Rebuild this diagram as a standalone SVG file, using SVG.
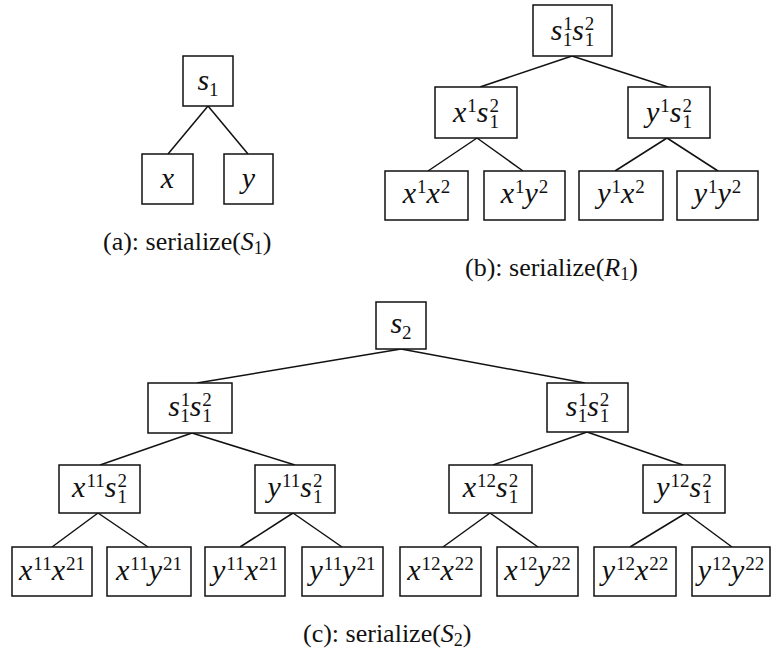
<svg xmlns="http://www.w3.org/2000/svg" width="771" height="657" viewBox="0 0 771 657">
  <style>
    .box { fill: #fff; stroke: #111; stroke-width: 1.5; }
    .edge { stroke: #111; stroke-width: 1.5; fill: none; }
    .m { font-size: 30px; font-style: italic; fill: #111; text-anchor: middle; }
    .sc { font-size: 19px; font-style: normal; }
    .cap { font-size: 26px; fill: #111; }
    .it { font-style: italic; }
    .sub { font-size: 18px; }
  </style>
  <rect width="771" height="657" fill="#fff"/>

  <!-- connectors -->
  <g id="connectors">
    <!-- (a) -->
    <line class="edge" x1="208" y1="106" x2="168" y2="154"/>
    <line class="edge" x1="208" y1="106" x2="248" y2="154"/>
    <!-- (b) -->
    <line class="edge" x1="572" y1="56" x2="480" y2="87"/>
    <line class="edge" x1="572" y1="56" x2="668" y2="87"/>
    <line class="edge" x1="477" y1="138" x2="428" y2="171"/>
    <line class="edge" x1="477" y1="138" x2="523" y2="171"/>
    <line class="edge" x1="667" y1="138" x2="615" y2="171"/>
    <line class="edge" x1="667" y1="138" x2="718" y2="171"/>
    <!-- (c) -->
    <line class="edge" x1="401" y1="349" x2="197" y2="383"/>
    <line class="edge" x1="401" y1="349" x2="585" y2="383"/>
    <line class="edge" x1="192" y1="433" x2="100" y2="465"/>
    <line class="edge" x1="192" y1="433" x2="295" y2="465"/>
    <line class="edge" x1="587" y1="432" x2="493" y2="465"/>
    <line class="edge" x1="587" y1="432" x2="683" y2="465"/>
    <line class="edge" x1="98" y1="513" x2="52" y2="547"/>
    <line class="edge" x1="98" y1="513" x2="148" y2="547"/>
    <line class="edge" x1="293" y1="513" x2="240" y2="547"/>
    <line class="edge" x1="293" y1="513" x2="342" y2="547"/>
    <line class="edge" x1="490" y1="513" x2="443" y2="547"/>
    <line class="edge" x1="490" y1="513" x2="538" y2="547"/>
    <line class="edge" x1="686" y1="513" x2="630" y2="547"/>
    <line class="edge" x1="686" y1="513" x2="732" y2="547"/>
  </g>

  <!-- (a): serialize(S1) -->
  <g id="a-s1">
    <rect class="box" x="183" y="56" width="50" height="50"/>
    <text class="m" font-family="Liberation Serif" x="208" y="90">s<tspan class="sc" dy="6">1</tspan></text>
  </g>
  <g id="a-x">
    <rect class="box" x="142" y="154" width="51" height="50"/>
    <text class="m" font-family="Liberation Serif" x="167.5" y="188">x</text>
  </g>
  <g id="a-y">
    <rect class="box" x="224" y="154" width="49" height="50"/>
    <text class="m" font-family="Liberation Serif" x="248.5" y="188">y</text>
  </g>

  <!-- (b): serialize(R1) -->
  <g id="b-root">
    <rect class="box" x="533" y="5" width="79" height="51"/>
    <text class="m" font-family="Liberation Serif" x="572.5" y="40">s<tspan class="sc" dx="1" dy="-10">1</tspan><tspan class="sc" dx="-9.5" dy="16">1</tspan><tspan dy="-6">s</tspan><tspan class="sc" dx="1" dy="-10">2</tspan><tspan class="sc" dx="-9.5" dy="16">1</tspan></text>
  </g>
  <g id="b-x1s21">
    <rect class="box" x="435" y="87" width="82" height="51"/>
    <text class="m" font-family="Liberation Serif" x="476" y="122">x<tspan class="sc" dx="1" dy="-10">1</tspan><tspan dy="10">s</tspan><tspan class="sc" dx="1" dy="-10">2</tspan><tspan class="sc" dx="-9.5" dy="16">1</tspan></text>
  </g>
  <g id="b-y1s21">
    <rect class="box" x="628" y="87" width="82" height="51"/>
    <text class="m" font-family="Liberation Serif" x="669" y="122">y<tspan class="sc" dx="1" dy="-10">1</tspan><tspan dy="10">s</tspan><tspan class="sc" dx="1" dy="-10">2</tspan><tspan class="sc" dx="-9.5" dy="16">1</tspan></text>
  </g>
  <g id="b-x1x2">
    <rect class="box" x="385" y="171" width="83" height="49"/>
    <text class="m" font-family="Liberation Serif" x="426.5" y="203">x<tspan class="sc" dx="1" dy="-10">1</tspan><tspan dy="10">x</tspan><tspan class="sc" dx="1" dy="-10">2</tspan></text>
  </g>
  <g id="b-x1y2">
    <rect class="box" x="484" y="171" width="81" height="49"/>
    <text class="m" font-family="Liberation Serif" x="524.5" y="203">x<tspan class="sc" dx="1" dy="-10">1</tspan><tspan dy="10">y</tspan><tspan class="sc" dx="1" dy="-10">2</tspan></text>
  </g>
  <g id="b-y1x2">
    <rect class="box" x="579" y="171" width="84" height="49"/>
    <text class="m" font-family="Liberation Serif" x="621" y="203">y<tspan class="sc" dx="1" dy="-10">1</tspan><tspan dy="10">x</tspan><tspan class="sc" dx="1" dy="-10">2</tspan></text>
  </g>
  <g id="b-y1y2">
    <rect class="box" x="677" y="171" width="81" height="49"/>
    <text class="m" font-family="Liberation Serif" x="717.5" y="203">y<tspan class="sc" dx="1" dy="-10">1</tspan><tspan dy="10">y</tspan><tspan class="sc" dx="1" dy="-10">2</tspan></text>
  </g>

  <!-- (c): serialize(S2) -->
  <g id="c-s2">
    <rect class="box" x="376" y="302" width="50" height="47"/>
    <text class="m" font-family="Liberation Serif" x="401" y="333">s<tspan class="sc" dy="6">2</tspan></text>
  </g>
  <g id="c-left">
    <rect class="box" x="148" y="383" width="84" height="50"/>
    <text class="m" font-family="Liberation Serif" x="190" y="416">s<tspan class="sc" dx="1" dy="-10">1</tspan><tspan class="sc" dx="-9.5" dy="16">1</tspan><tspan dy="-6">s</tspan><tspan class="sc" dx="1" dy="-10">2</tspan><tspan class="sc" dx="-9.5" dy="16">1</tspan></text>
  </g>
  <g id="c-right">
    <rect class="box" x="547" y="383" width="81" height="49"/>
    <text class="m" font-family="Liberation Serif" x="587.5" y="416">s<tspan class="sc" dx="1" dy="-10">1</tspan><tspan class="sc" dx="-9.5" dy="16">1</tspan><tspan dy="-6">s</tspan><tspan class="sc" dx="1" dy="-10">2</tspan><tspan class="sc" dx="-9.5" dy="16">1</tspan></text>
  </g>
  <g id="c-x11s21">
    <rect class="box" x="59" y="465" width="81" height="48"/>
    <text class="m" font-family="Liberation Serif" x="99.5" y="497">x<tspan class="sc" dx="1" dy="-10">11</tspan><tspan dy="10">s</tspan><tspan class="sc" dx="1" dy="-10">2</tspan><tspan class="sc" dx="-9.5" dy="16">1</tspan></text>
  </g>
  <g id="c-y11s21">
    <rect class="box" x="255" y="465" width="80" height="48"/>
    <text class="m" font-family="Liberation Serif" x="295" y="497">y<tspan class="sc" dx="1" dy="-10">11</tspan><tspan dy="10">s</tspan><tspan class="sc" dx="1" dy="-10">2</tspan><tspan class="sc" dx="-9.5" dy="16">1</tspan></text>
  </g>
  <g id="c-x12s21">
    <rect class="box" x="449" y="465" width="83" height="48"/>
    <text class="m" font-family="Liberation Serif" x="490.5" y="497">x<tspan class="sc" dx="1" dy="-10">12</tspan><tspan dy="10">s</tspan><tspan class="sc" dx="1" dy="-10">2</tspan><tspan class="sc" dx="-9.5" dy="16">1</tspan></text>
  </g>
  <g id="c-y12s21">
    <rect class="box" x="643" y="465" width="82" height="48"/>
    <text class="m" font-family="Liberation Serif" x="684" y="497">y<tspan class="sc" dx="1" dy="-10">12</tspan><tspan dy="10">s</tspan><tspan class="sc" dx="1" dy="-10">2</tspan><tspan class="sc" dx="-9.5" dy="16">1</tspan></text>
  </g>
  <g id="c-x11x21">
    <rect class="box" x="12" y="547" width="80" height="49"/>
    <text class="m" font-family="Liberation Serif" x="52" y="580">x<tspan class="sc" dx="1" dy="-10">11</tspan><tspan dy="10">x</tspan><tspan class="sc" dx="1" dy="-10">21</tspan></text>
  </g>
  <g id="c-x11y21">
    <rect class="box" x="107" y="547" width="84" height="49"/>
    <text class="m" font-family="Liberation Serif" x="149" y="580">x<tspan class="sc" dx="1" dy="-10">11</tspan><tspan dy="10">y</tspan><tspan class="sc" dx="1" dy="-10">21</tspan></text>
  </g>
  <g id="c-y11x21">
    <rect class="box" x="205" y="547" width="80" height="49"/>
    <text class="m" font-family="Liberation Serif" x="245" y="580">y<tspan class="sc" dx="1" dy="-10">11</tspan><tspan dy="10">x</tspan><tspan class="sc" dx="1" dy="-10">21</tspan></text>
  </g>
  <g id="c-y11y21">
    <rect class="box" x="302" y="547" width="81" height="49"/>
    <text class="m" font-family="Liberation Serif" x="342.5" y="580">y<tspan class="sc" dx="1" dy="-10">11</tspan><tspan dy="10">y</tspan><tspan class="sc" dx="1" dy="-10">21</tspan></text>
  </g>
  <g id="c-x12x22">
    <rect class="box" x="400" y="547" width="81" height="49"/>
    <text class="m" font-family="Liberation Serif" x="440.5" y="580">x<tspan class="sc" dx="1" dy="-10">12</tspan><tspan dy="10">x</tspan><tspan class="sc" dx="1" dy="-10">22</tspan></text>
  </g>
  <g id="c-x12y22">
    <rect class="box" x="497" y="547" width="81" height="49"/>
    <text class="m" font-family="Liberation Serif" x="537.5" y="580">x<tspan class="sc" dx="1" dy="-10">12</tspan><tspan dy="10">y</tspan><tspan class="sc" dx="1" dy="-10">22</tspan></text>
  </g>
  <g id="c-y12x22">
    <rect class="box" x="594" y="547" width="82" height="49"/>
    <text class="m" font-family="Liberation Serif" x="635" y="580">y<tspan class="sc" dx="1" dy="-10">12</tspan><tspan dy="10">x</tspan><tspan class="sc" dx="1" dy="-10">22</tspan></text>
  </g>
  <g id="c-y12y22">
    <rect class="box" x="692" y="547" width="78" height="49"/>
    <text class="m" font-family="Liberation Serif" x="731" y="580">y<tspan class="sc" dx="1" dy="-10">12</tspan><tspan dy="10">y</tspan><tspan class="sc" dx="1" dy="-10">22</tspan></text>
  </g>

  <!-- captions -->
  <text class="cap" font-family="Liberation Serif" x="103" y="250">(a):  serialize(<tspan class="it">S</tspan><tspan class="sub" dy="4">1</tspan><tspan dy="-4">)</tspan></text>
  <text class="cap" font-family="Liberation Serif" x="465" y="276">(b):  serialize(<tspan class="it">R</tspan><tspan class="sub" dy="4">1</tspan><tspan dy="-4">)</tspan></text>
  <text class="cap" font-family="Liberation Serif" x="303" y="642">(c):  serialize(<tspan class="it">S</tspan><tspan class="sub" dy="4">2</tspan><tspan dy="-4">)</tspan></text>
</svg>
